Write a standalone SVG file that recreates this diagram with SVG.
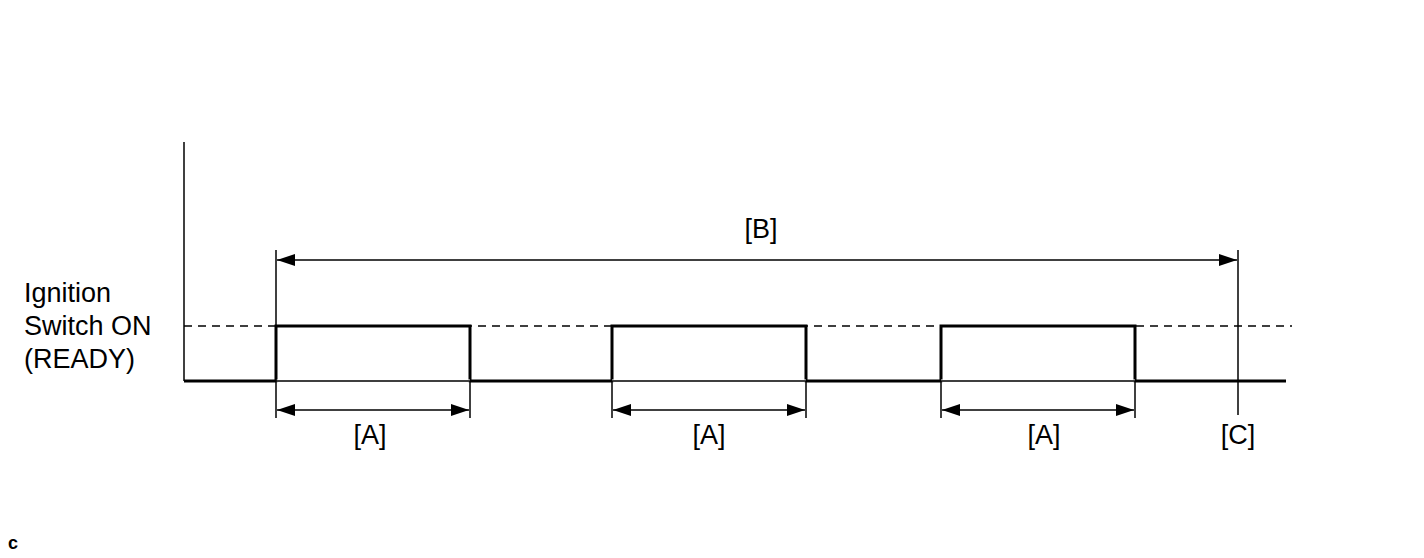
<svg xmlns="http://www.w3.org/2000/svg" width="1424" height="558" viewBox="0 0 1424 558">
<style>
.t{font-family:"Liberation Sans",Arial,sans-serif;font-size:27px;fill:#000}
.th{stroke:#000;stroke-width:3;fill:none}
.tn{stroke:#000;stroke-width:1.5;fill:none}
.ds{stroke:#000;stroke-width:1.5;stroke-dasharray:8,6;fill:none}
</style>
<defs>
<marker id="ah" viewBox="0 0 18 12" refX="18" refY="6" markerWidth="18" markerHeight="12" markerUnits="userSpaceOnUse" orient="auto-start-reverse"><path d="M0,0L18,6L0,12Z" fill="#000"/></marker>
</defs>
<rect width="1424" height="558" fill="#fff"/>
<g id="axes">
<line class="tn" x1="184" y1="142" x2="184" y2="381"/>
<line class="ds" x1="184" y1="326" x2="1292" y2="326"/>
<line class="tn" x1="276" y1="381" x2="1135" y2="381"/>
</g>
<g id="signal">
<path class="th" d="M184,381H276V326H470V381H612V326H806V381H941V326H1135V381H1286"/>
<path d="M276,381H470M612,381H806M941,381H1135" stroke="#fff" stroke-width="3"/>
<path class="tn" d="M276,381H470M612,381H806M941,381H1135"/>
</g>
<g id="connectors">
<line class="tn" x1="276" y1="250" x2="276" y2="418"/>
<line class="tn" x1="470" y1="381" x2="470" y2="418"/>
<line class="tn" x1="612" y1="381" x2="612" y2="418"/>
<line class="tn" x1="806" y1="381" x2="806" y2="418"/>
<line class="tn" x1="941" y1="381" x2="941" y2="418"/>
<line class="tn" x1="1135" y1="381" x2="1135" y2="418"/>
<line class="tn" x1="1238" y1="250" x2="1238" y2="415"/>
<line class="tn" x1="277" y1="260" x2="1237" y2="260" marker-start="url(#ah)" marker-end="url(#ah)"/>
<line class="tn" x1="277" y1="410" x2="469" y2="410" marker-start="url(#ah)" marker-end="url(#ah)"/>
<line class="tn" x1="613" y1="410" x2="805" y2="410" marker-start="url(#ah)" marker-end="url(#ah)"/>
<line class="tn" x1="942" y1="410" x2="1134" y2="410" marker-start="url(#ah)" marker-end="url(#ah)"/>
</g>
<g id="labels">
<text class="t" x="24" y="302">Ignition</text>
<text class="t" x="24" y="335">Switch ON</text>
<text class="t" x="24" y="368">(READY)</text>
<text class="t" x="761" y="238" text-anchor="middle">[B]</text>
<text class="t" x="370" y="444" text-anchor="middle">[A]</text>
<text class="t" x="709" y="444" text-anchor="middle">[A]</text>
<text class="t" x="1044" y="444" text-anchor="middle">[A]</text>
<text class="t" x="1238" y="444" text-anchor="middle">[C]</text>
<text class="t" x="8" y="549" style="font-size:18px;font-weight:bold">c</text>
</g>
</svg>
